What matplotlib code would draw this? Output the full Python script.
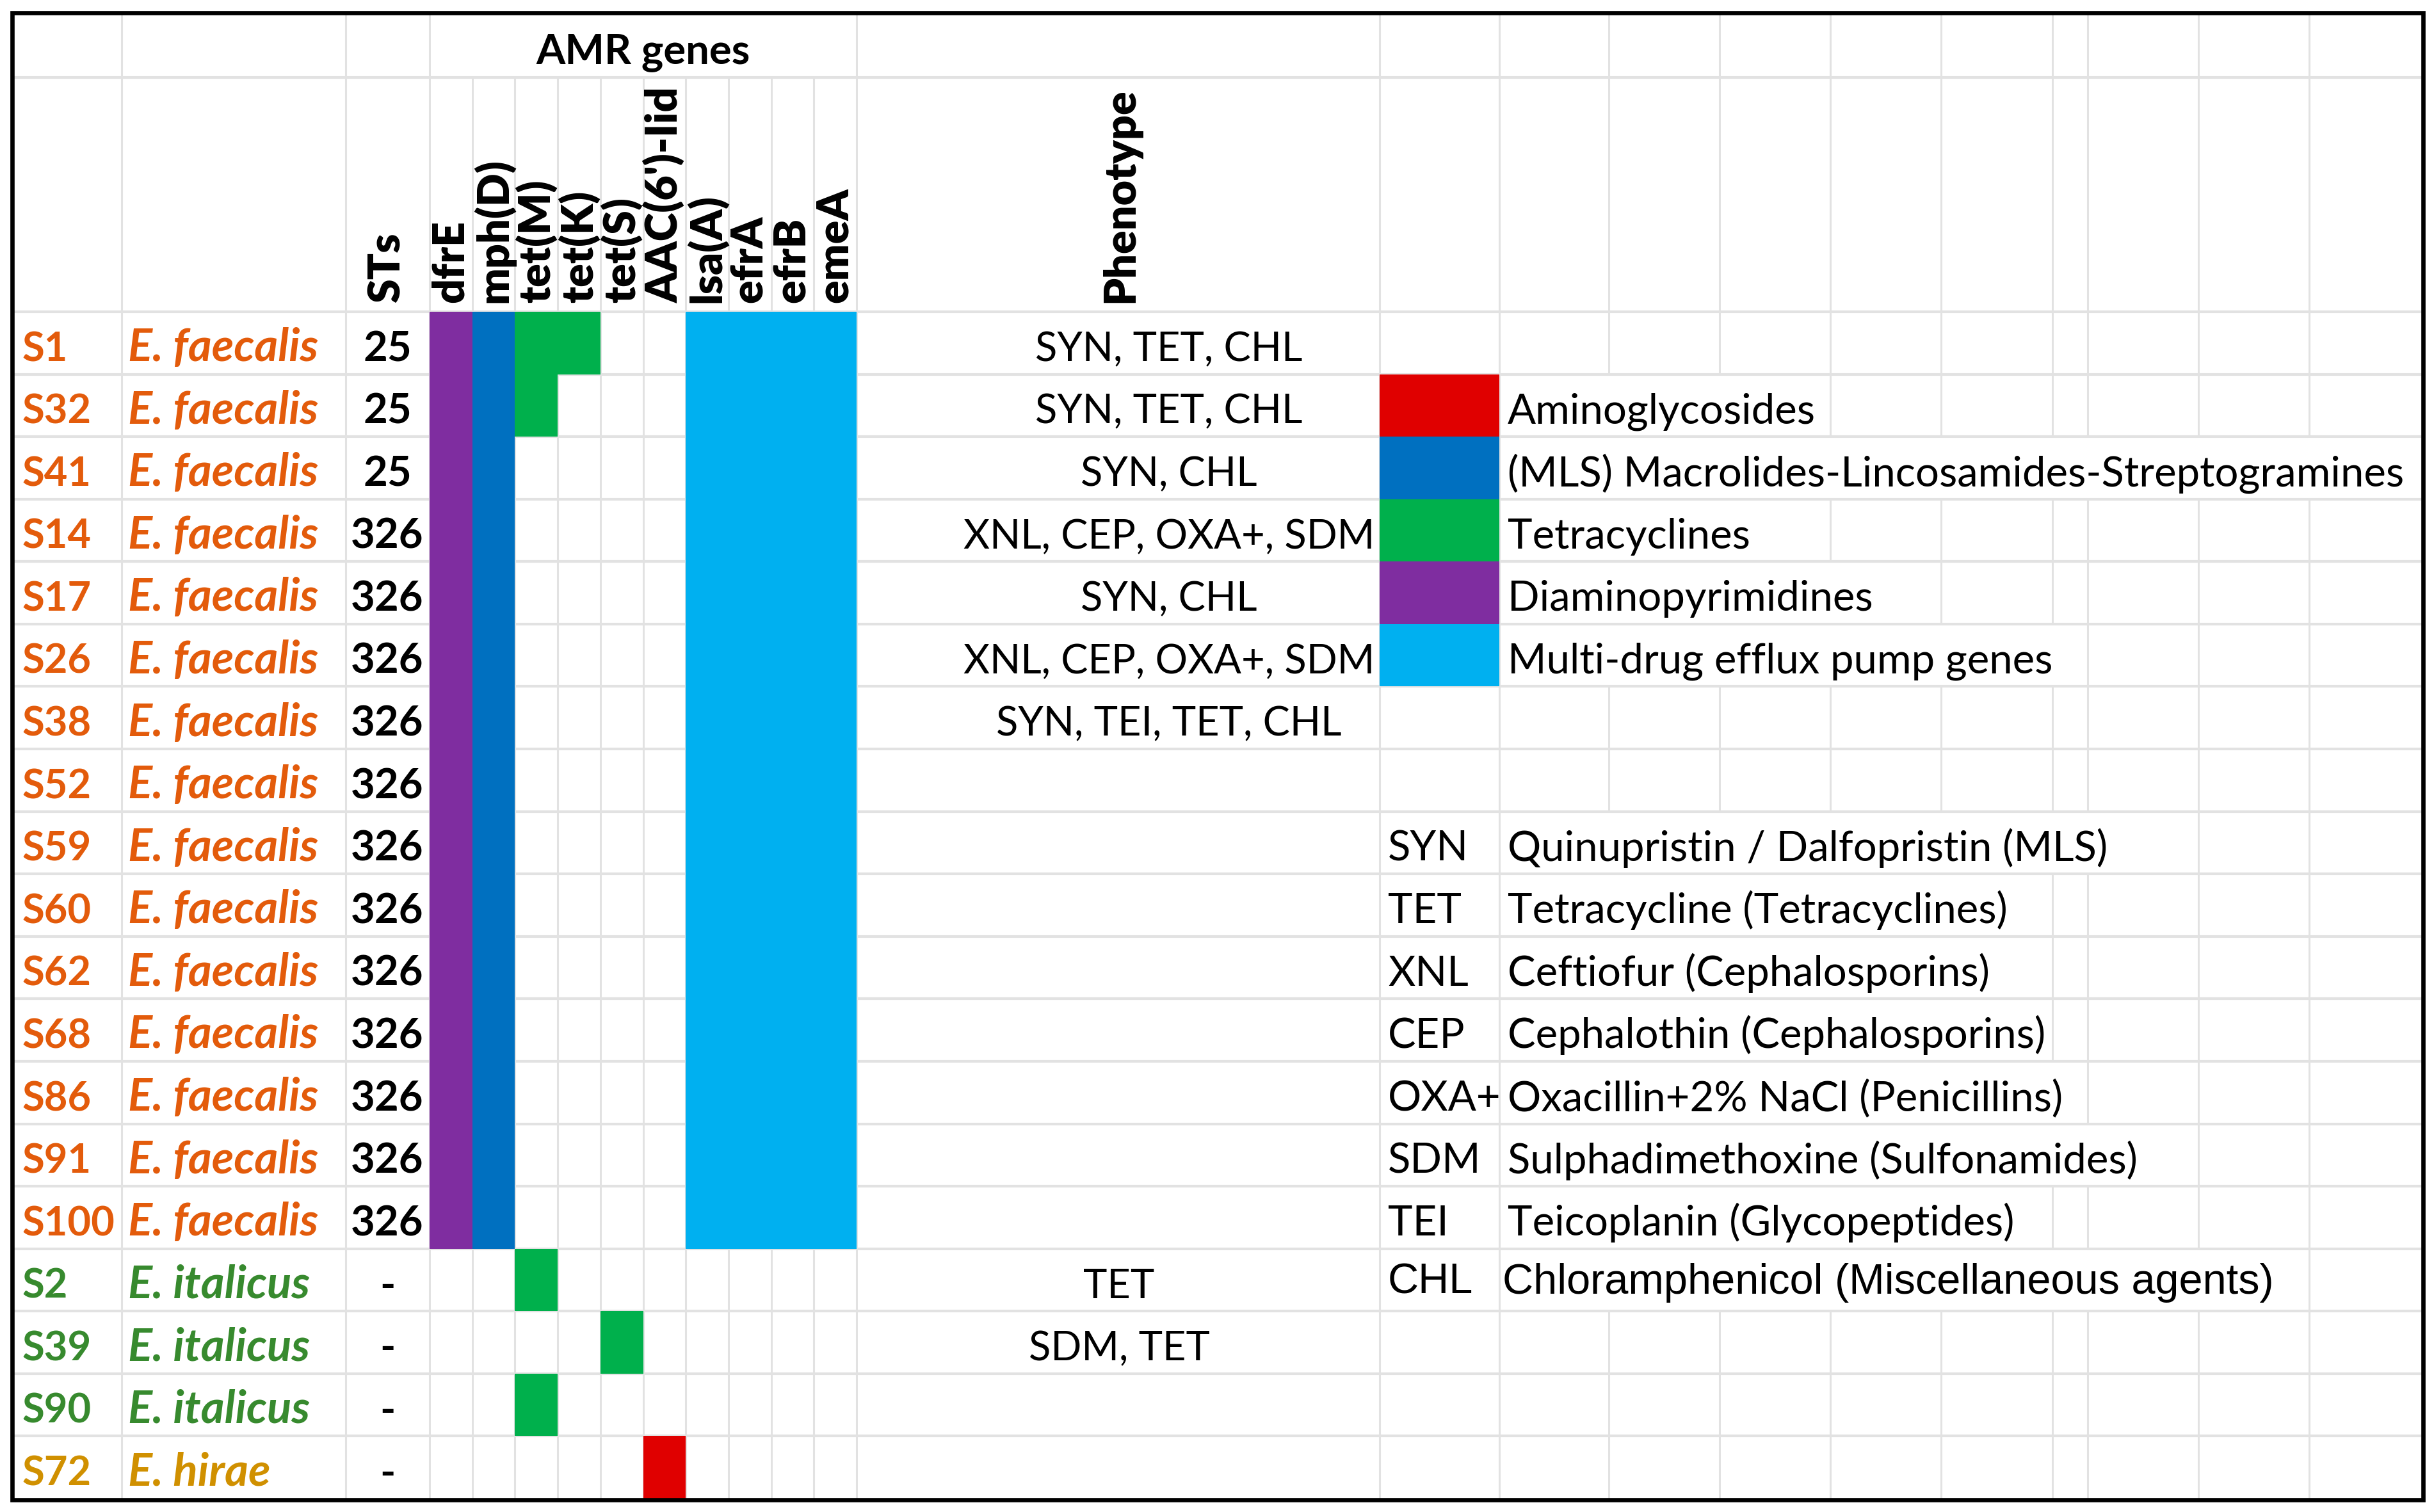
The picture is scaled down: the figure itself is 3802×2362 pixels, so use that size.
import matplotlib
matplotlib.use('Agg')
import matplotlib.pyplot as plt
from matplotlib.patches import Rectangle
from matplotlib import font_manager as fm

# ------------------------------------------------------------------ data
samples = ['S1', 'S32', 'S41', 'S14', 'S17', 'S26', 'S38', 'S52', 'S59', 'S60',
           'S62', 'S68', 'S86', 'S91', 'S100', 'S2', 'S39', 'S90', 'S72']
species = ['E. faecalis', 'E. faecalis', 'E. faecalis', 'E. faecalis', 'E. faecalis',
           'E. faecalis', 'E. faecalis', 'E. faecalis', 'E. faecalis', 'E. faecalis',
           'E. faecalis', 'E. faecalis', 'E. faecalis', 'E. faecalis', 'E. faecalis',
           'E. italicus', 'E. italicus', 'E. italicus', 'E. hirae']
sts = ['25', '25', '25', '326', '326', '326', '326', '326', '326', '326',
       '326', '326', '326', '326', '326', '-', '-', '-', '-']
genes = ['dfrE', 'mph(D)', 'tet(M)', 'tet(K)', 'tet(S)', "AAC(6')-Iid",
         'lsa(A)', 'efrA', 'efrB', 'emeA']
gene_class = ['Diaminopyrimidines', 'MLS', 'Tetracyclines', 'Tetracyclines',
              'Tetracyclines', 'Aminoglycosides', 'Efflux', 'Efflux', 'Efflux', 'Efflux']
#            dfrE mph tetM tetK tetS AAC lsa efrA efrB emeA
presence = [[1, 1, 1, 1, 0, 0, 1, 1, 1, 1],   # S1
            [1, 1, 1, 0, 0, 0, 1, 1, 1, 1],   # S32
            [1, 1, 0, 0, 0, 0, 1, 1, 1, 1],   # S41
            [1, 1, 0, 0, 0, 0, 1, 1, 1, 1],   # S14
            [1, 1, 0, 0, 0, 0, 1, 1, 1, 1],   # S17
            [1, 1, 0, 0, 0, 0, 1, 1, 1, 1],   # S26
            [1, 1, 0, 0, 0, 0, 1, 1, 1, 1],   # S38
            [1, 1, 0, 0, 0, 0, 1, 1, 1, 1],   # S52
            [1, 1, 0, 0, 0, 0, 1, 1, 1, 1],   # S59
            [1, 1, 0, 0, 0, 0, 1, 1, 1, 1],   # S60
            [1, 1, 0, 0, 0, 0, 1, 1, 1, 1],   # S62
            [1, 1, 0, 0, 0, 0, 1, 1, 1, 1],   # S68
            [1, 1, 0, 0, 0, 0, 1, 1, 1, 1],   # S86
            [1, 1, 0, 0, 0, 0, 1, 1, 1, 1],   # S91
            [1, 1, 0, 0, 0, 0, 1, 1, 1, 1],   # S100
            [0, 0, 1, 0, 0, 0, 0, 0, 0, 0],   # S2
            [0, 0, 0, 0, 1, 0, 0, 0, 0, 0],   # S39
            [0, 0, 1, 0, 0, 0, 0, 0, 0, 0],   # S90
            [0, 0, 0, 0, 0, 1, 0, 0, 0, 0]]   # S72
phenotype = ['SYN, TET, CHL', 'SYN, TET, CHL', 'SYN, CHL', 'XNL, CEP, OXA+, SDM',
             'SYN, CHL', 'XNL, CEP, OXA+, SDM', 'SYN, TEI, TET, CHL', '', '', '',
             '', '', '', '', '', 'TET', 'SDM, TET', '', '']
legend_classes = ['Aminoglycosides', 'MLS', 'Tetracyclines', 'Diaminopyrimidines', 'Efflux']
legend_labels = ['Aminoglycosides', '(MLS) Macrolides-Lincosamides-Streptogramines',
                 'Tetracyclines', 'Diaminopyrimidines', 'Multi-drug efflux pump genes']
abbrevs = ['SYN', 'TET', 'XNL', 'CEP', 'OXA+', 'SDM', 'TEI', 'CHL']
abbrev_desc = ['Quinupristin / Dalfopristin (MLS)', 'Tetracycline (Tetracyclines)',
               'Ceftiofur (Cephalosporins)', 'Cephalothin (Cephalosporins)',
               'Oxacillin+2% NaCl (Penicillins)', 'Sulphadimethoxine (Sulfonamides)',
               'Teicoplanin (Glycopeptides)', 'Chloramphenicol (Miscellaneous agents)']

# ------------------------------------------------------------------ style
class_colors = {'Aminoglycosides': '#E00000', 'MLS': '#0070C0',
                'Tetracyclines': '#00B04C', 'Diaminopyrimidines': '#7F2DA0',
                'Efflux': '#00B0F0'}
species_colors = {'E. faecalis': '#E35B0B', 'E. italicus': '#378A2E',
                  'E. hirae': '#D09000'}
GRID = '#E2E2E2'

names = {f.name for f in fm.fontManager.ttflist}
MAIN = 'Lato' if 'Lato' in names else 'DejaVu Sans'
ALT = 'Liberation Sans' if 'Liberation Sans' in names else 'DejaVu Sans'
FS = 47          # legend / abbreviation text
FS_PHENO = 45.5  # phenotype text
FS_ID = 45.5     # sample ids
FS_SP = 51       # species names
FS_ST = 47       # STs
FS_ROT = 49      # rotated headers

# ------------------------------------------------------------------ layout (pixels)
W, H = 3802, 2362
X_LEFT, X_RIGHT = 19, 3785
Y_TOP = 20
Y_HDR = 121
Y_DATA = 487
Y_BOT = 2341
gene_x0, gene_x1 = 671, 1338
gene_w = (gene_x1 - gene_x0) / len(genes)
gene_edges = [gene_x0 + k * gene_w for k in range(len(genes) + 1)]
right_edges = [2155, 2342, 2513, 2686, 2859, 3032, 3206, 3261, 3434, 3607]
VX = [X_LEFT, 190, 540] + gene_edges + right_edges + [X_RIGHT]
n = len(samples)
rh = (Y_BOT - Y_DATA) / n
RY = [Y_TOP, Y_HDR] + [Y_DATA + i * rh for i in range(n + 1)]

fig = plt.figure(figsize=(W / 100, H / 100), dpi=100)
ax = fig.add_axes([0, 0, 1, 1])
ax.set_xlim(0, W)
ax.set_ylim(H, 0)
ax.axis('off')


def row_top(i):
    return Y_DATA + i * rh


def base(i):
    return row_top(i) + 0.79 * rh


# header texts
ax.text((gene_x0 + gene_x1) / 2, 100, 'AMR genes', ha='center', va='baseline',
        fontsize=FS, fontweight='bold', family=MAIN, zorder=4)
for k, g in enumerate(genes):
    xc = gene_x0 + (k + 0.5) * gene_w
    ax.text(xc, 473, g, rotation=90, rotation_mode='anchor', ha='left', va='center',
            fontsize=FS_ROT, fontweight='heavy', family=MAIN, zorder=4)
ax.text(605, 473, 'STs', rotation=90, rotation_mode='anchor', ha='left', va='center',
        fontsize=FS_ROT, fontweight='heavy', family=MAIN, zorder=4)
ax.text(1751, 473, 'Phenotype', rotation=90, rotation_mode='anchor', ha='left',
        va='center', fontsize=FS_ROT, fontweight='heavy', family=MAIN, zorder=4)

# data rows
pheno_center = {'E. faecalis': 1826}
for i in range(n):
    c = species_colors[species[i]]
    ax.text(34, base(i), samples[i], ha='left', va='baseline', color=c,
            fontsize=FS_ID, fontweight='bold', family=MAIN, zorder=4)
    ax.text(200, base(i), species[i], ha='left', va='baseline', color=c,
            fontsize=FS_SP, fontweight='bold', fontstyle='italic', family=MAIN, zorder=4)
    ax.text(605, base(i), sts[i], ha='center', va='baseline', color='black',
            fontsize=FS_ST, fontweight='bold', family=MAIN, zorder=4)
    if phenotype[i]:
        ax.text(pheno_center.get(species[i], 1748), base(i), phenotype[i],
                ha='center', va='baseline', fontsize=FS_PHENO, family=MAIN, zorder=4)
    for k in range(len(genes)):
        if presence[i][k]:
            ax.add_patch(Rectangle((gene_edges[k], row_top(i)), gene_w, rh,
                                   facecolor=class_colors[gene_class[k]],
                                   edgecolor='none', zorder=3))

# legend (rows 1..5)
overflow = []   # (grid row index, text artist)
for j, (cl, lab) in enumerate(zip(legend_classes, legend_labels)):
    r = 1 + j
    ax.add_patch(Rectangle((2155, row_top(r)), 2342 - 2155, rh,
                           facecolor=class_colors[cl], edgecolor='none', zorder=3))
    t = ax.text(2355, base(r), lab, ha='left', va='baseline', fontsize=FS,
                family=MAIN, zorder=4)
    overflow.append((r, t))

# abbreviation table (rows 8..15)
for j, (ab, de) in enumerate(zip(abbrevs, abbrev_desc)):
    r = 8 + j
    if ab == 'CHL':
        ax.text(2168, row_top(r) + 0.72 * rh, ab, ha='left', va='baseline',
                fontsize=FS + 1, family=ALT, zorder=4)
        t = ax.text(2347, row_top(r) + 0.72 * rh, de, ha='left', va='baseline',
                    fontsize=FS + 1, family=ALT, zorder=4)
    else:
        ax.text(2168, base(r), ab, ha='left', va='baseline', fontsize=FS,
                family=MAIN, zorder=4)
        t = ax.text(2355, base(r), de, ha='left', va='baseline', fontsize=FS,
                    family=MAIN, zorder=4)
    overflow.append((r, t))

# compute text spans to hide gridlines under overflowing text (Excel style)
fig.canvas.draw()
renderer = fig.canvas.get_renderer()
inv = ax.transData.inverted()
hidden = {}
for r, t in overflow:
    bb = t.get_window_extent(renderer)
    x0 = inv.transform((bb.x0, bb.y0))[0]
    x1 = inv.transform((bb.x1, bb.y0))[0]
    hidden.setdefault(r + 2, []).append((x0, x1))

# vertical gridlines, per grid row
for x in VX[1:-1]:
    for gr in range(len(RY) - 1):
        if gr == 0 and gene_x0 < x < gene_x1:
            continue
        if any(a < x < b for a, b in hidden.get(gr, [])):
            continue
        ax.plot([x, x], [RY[gr], RY[gr + 1]], color=GRID, lw=2.2,
                solid_capstyle='butt', zorder=1)
# horizontal gridlines
for y in RY[1:-1]:
    ax.plot([X_LEFT, X_RIGHT], [y, y], color=GRID, lw=3.0,
            solid_capstyle='butt', zorder=1)

# outer border
ax.add_patch(Rectangle((X_LEFT, Y_TOP), X_RIGHT - X_LEFT, Y_BOT + 2 - Y_TOP,
                       facecolor='none', edgecolor='black', lw=4.8, zorder=6))

fig.savefig('out.png', dpi=100, facecolor='white')
